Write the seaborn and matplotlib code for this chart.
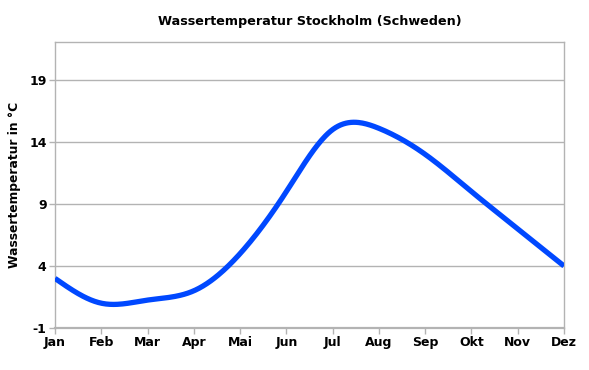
import numpy as np
import pandas as pd
import matplotlib
matplotlib.use("Agg")
import matplotlib.pyplot as plt
import seaborn as sns

months = ["Jan", "Feb", "Mar", "Apr", "Mai", "Jun", "Jul", "Aug", "Sep", "Okt", "Nov", "Dez"]
temps = [3.0, 1.0, 1.25, 2.0, 5.0, 10.0, 15.0, 15.1, 13.0, 10.0, 7.0, 4.0]
yticks = [-1, 4, 9, 14, 19]

title = "Wassertemperatur Stockholm (Schweden)"
ylabel = "Wassertemperatur in °C"

sns.set_theme(style="white")
plt.rcParams['font.family'] = ['DejaVu Sans']


def natural_spline(x, y, xs):
    x = np.asarray(x, float); y = np.asarray(y, float)
    n = len(x)
    h = np.diff(x)
    A = np.zeros((n, n)); b = np.zeros(n)
    A[0, 0] = 1; A[-1, -1] = 1
    for i in range(1, n - 1):
        A[i, i - 1] = h[i - 1]
        A[i, i] = 2 * (h[i - 1] + h[i])
        A[i, i + 1] = h[i]
        b[i] = 3 * ((y[i + 1] - y[i]) / h[i] - (y[i] - y[i - 1]) / h[i - 1])
    c = np.linalg.solve(A, b)
    out = np.empty_like(xs)
    for k, xv in enumerate(xs):
        i = min(max(np.searchsorted(x, xv) - 1, 0), n - 2)
        dx = xv - x[i]
        bi = (y[i + 1] - y[i]) / h[i] - h[i] * (2 * c[i] + c[i + 1]) / 3
        di = (c[i + 1] - c[i]) / (3 * h[i])
        out[k] = y[i] + bi * dx + c[i] * dx ** 2 + di * dx ** 3
    return out


xpos = np.arange(len(months))
xs = np.linspace(0, len(months) - 1, 400)
df = pd.DataFrame({"x": xs, "y": natural_spline(xpos, temps, xs)})

fig = plt.figure(figsize=(5.89, 3.70), dpi=100)
ax = fig.add_axes([55 / 589, 1 - 328 / 370, (564 - 55) / 589, (328 - 42) / 370])

sns.lineplot(data=df, x="x", y="y", ax=ax, color="#0048ff", linewidth=3.8,
             solid_capstyle="butt", zorder=3)

ax.set_xlim(0, len(months) - 1)
ax.set_ylim(-1, 22.06)
ax.set_xticks(xpos)
ax.set_xticklabels(months, fontsize=9, fontweight="bold")
ax.set_yticks(yticks)
ax.set_yticklabels([str(v) for v in yticks], fontsize=9, fontweight="bold")
ax.yaxis.grid(True, color="#b3b3b3", linewidth=1)
ax.xaxis.grid(False)
ax.set_axisbelow(True)
for s in ["left", "top", "right"]:
    ax.spines[s].set_color("#b3b3b3")
    ax.spines[s].set_linewidth(1)
ax.spines["bottom"].set_color("#b3b3b3")
ax.spines["bottom"].set_linewidth(1.6)
ax.tick_params(axis="x", length=4, width=1, color="#b3b3b3", pad=2, labelcolor="black")
ax.tick_params(axis="y", length=4, width=1, color="#b3b3b3", pad=2, labelcolor="black")
ax.tick_params(axis="y", which="both", left=True)
ax.tick_params(axis="x", which="both", bottom=True)
ax.set_xlabel("")
ax.set_ylabel(ylabel, fontsize=8.8, fontweight="bold", color="black", labelpad=6)
ax.set_title(title, fontsize=9.2, fontweight="bold", color="black", pad=12)

fig.savefig("out.png", dpi=100, facecolor="white")
